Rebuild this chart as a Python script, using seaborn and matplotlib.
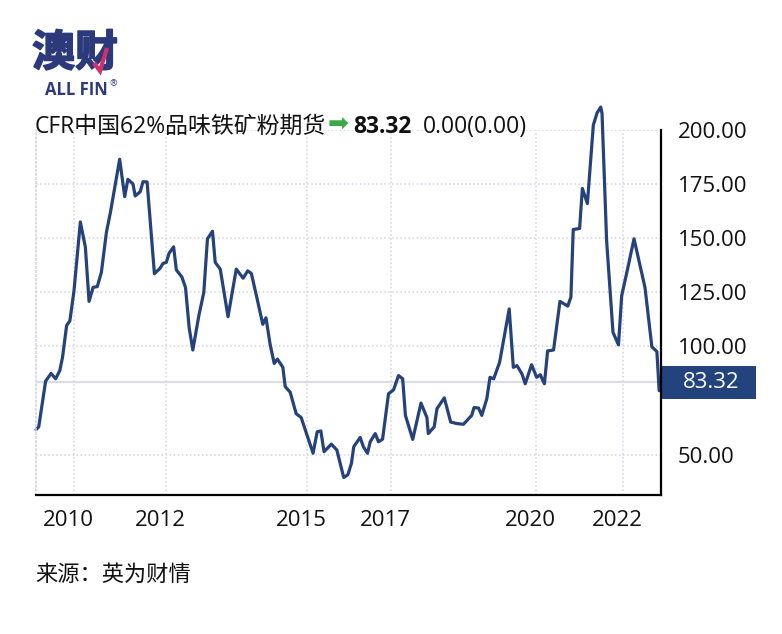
import matplotlib
matplotlib.use("Agg")
import matplotlib.pyplot as plt
import matplotlib.transforms as mtransforms
import matplotlib.patheffects as pe
from matplotlib.patches import Rectangle
from matplotlib.lines import Line2D
import seaborn as sns

# CFR China 62% iron ore fines (decimal year, USD/t)
years = [2009.16, 2009.22, 2009.37, 2009.49, 2009.59, 2009.68, 2009.74, 2009.83, 2009.90, 2009.99,
         2010.13, 2010.24, 2010.32, 2010.41, 2010.50, 2010.59, 2010.70, 2010.79, 2010.99, 2011.10,
         2011.17, 2011.28, 2011.33, 2011.44, 2011.50, 2011.59, 2011.75, 2011.87, 2011.94, 2012.01,
         2012.07, 2012.17, 2012.23, 2012.35, 2012.43, 2012.51, 2012.59, 2012.72, 2012.83, 2012.91,
         2013.02, 2013.08, 2013.19, 2013.28, 2013.36, 2013.54, 2013.69, 2013.79, 2013.87, 2013.99,
         2014.12, 2014.19, 2014.28, 2014.37, 2014.44, 2014.56, 2014.61, 2014.72, 2014.85, 2014.96,
         2015.22, 2015.31, 2015.39, 2015.46, 2015.62, 2015.74, 2015.89, 2015.98, 2016.06, 2016.11,
         2016.25, 2016.32, 2016.41, 2016.47, 2016.58, 2016.65, 2016.74, 2016.87, 2016.98, 2017.09,
         2017.18, 2017.24, 2017.40, 2017.58, 2017.71, 2017.74, 2017.87, 2017.93, 2018.09, 2018.23,
         2018.37, 2018.51, 2018.69, 2018.74, 2018.84, 2018.91, 2019.02, 2019.09, 2019.17, 2019.30,
         2019.51, 2019.60, 2019.68, 2019.79, 2019.86, 2020.00, 2020.11, 2020.19, 2020.28, 2020.35,
         2020.48, 2020.62, 2020.79, 2020.86, 2020.91, 2021.05, 2021.11, 2021.22, 2021.35, 2021.43,
         2021.51, 2021.54, 2021.64, 2021.78, 2021.90, 2021.97, 2022.09, 2022.24, 2022.48, 2022.63,
         2022.74, 2022.79]
prices = [61.5, 62.8, 83.9, 87.5, 85.0, 88.8, 94.9, 109.7, 111.7, 125.5,
          157.5, 145.8, 120.8, 127.3, 127.6, 134.2, 152.7, 162.2, 186.5, 169.2,
          177.2, 175.1, 169.5, 171.5, 176.1, 176.0, 133.6, 136.0, 138.4, 138.8,
          143.0, 146.0, 135.3, 132.1, 127.2, 108.6, 98.3, 114.0, 124.9, 149.7,
          153.2, 138.8, 135.7, 124.1, 113.7, 135.7, 131.5, 134.9, 133.7, 122.6,
          110.2, 113.2, 101.0, 92.1, 94.1, 90.3, 81.4, 78.8, 68.9, 67.1,
          50.6, 60.5, 60.9, 51.3, 54.8, 52.1, 39.4, 40.6, 46.0, 53.6,
          57.9, 53.6, 50.6, 55.9, 59.7, 55.9, 57.1, 78.1, 79.9, 86.5,
          85.0, 68.1, 57.0, 73.8, 67.1, 59.7, 62.8, 71.2, 76.2, 65.0,
          64.3, 64.0, 68.1, 71.7, 71.5, 68.1, 75.8, 85.7, 85.0, 92.6,
          117.3, 90.3, 91.1, 87.2, 82.7, 91.5, 85.7, 86.9, 82.7, 97.9,
          98.3, 120.8, 118.6, 122.8, 154.0, 154.5, 173.0, 166.0, 202.3, 207.8,
          210.6, 207.8, 149.0, 106.5, 100.7, 123.4, 134.9, 149.7, 127.2, 99.8,
          97.6, 79.5]

last_price = 83.32
x_ticks = [2010.0, 2012.01, 2015.09, 2016.93, 2020.10, 2022.0]
x_labels = ["2010", "2012", "2015", "2017", "2020", "2022"]
y_ticks = [50, 100, 125, 150, 175, 200]

navy = "#25427a"
logo_navy = "#2c3a7c"
grid_col = "#d3d3e3"

sns.set_style("white")
plt.rcParams["font.family"] = ["Open Sans", "Noto Sans CJK SC", "DejaVu Sans"]

W, H = 782, 634
fig = plt.figure(figsize=(W / 100, H / 100), dpi=100)
ax = fig.add_axes([36 / W, 1 - 495 / H, (661 - 36) / W, (495 - 130) / H])

sns.lineplot(x=years, y=prices, ax=ax, color=navy, linewidth=2.3)
for ln in ax.lines:
    ln.set_clip_on(False)
    ln.set_solid_joinstyle("round")

ax.set_xlim(2009.16, 2022.83)
ax.set_ylim(31.3, 200)
ax.set_xticks(x_ticks)
ax.set_xticklabels(x_labels)
ax.set_yticks(y_ticks)
ax.set_yticklabels([f"{v:.2f}" for v in y_ticks])
ax.yaxis.tick_right()
ax.tick_params(axis="both", length=0, labelsize=16, colors="#111111")
ax.tick_params(axis="y", pad=12)
ax.tick_params(axis="x", pad=11)
off = mtransforms.ScaledTranslation(-4 / 72, 0, fig.dpi_scale_trans)
for lab in ax.get_xticklabels():
    lab.set_transform(lab.get_transform() + off)

ax.grid(True, linestyle=":", color=grid_col, linewidth=1.1)
ax.spines["top"].set_visible(False)
ax.spines["left"].set_linestyle(":")
ax.spines["left"].set_color(grid_col)
ax.spines["left"].set_linewidth(1.1)
for s in ["bottom", "right"]:
    ax.spines[s].set_color("black")
    ax.spines[s].set_linewidth(1.6)

# last price line and label box
ax.axhline(last_price, color="#dcdbe6", linewidth=1.6, zorder=1)
trans = mtransforms.blended_transform_factory(ax.transAxes, ax.transData)
ax.add_patch(Rectangle((1.0, last_price - 7.6), 95 / (661 - 36), 15.2, transform=trans,
                       facecolor="#23437c", edgecolor="none", clip_on=False))
ax.text(1.0 + 50 / (661 - 36), last_price, f"{last_price:.2f}", transform=trans,
        color="white", fontsize=16, ha="center", va="center")


def px(x, y):
    return x / W, 1 - y / H


# header
fig.text(*px(35, 133), "CFR中国62%品味铁矿粉期货", fontsize=16.5, color="#111111", va="baseline")
fig.text(*px(328, 131), "➡", fontsize=18, color="#3aaa45", va="baseline", family=["DejaVu Sans"])
fig.text(*px(353, 133), f"{last_price:.2f}", fontsize=16.5, fontweight="bold", color="#111111", va="baseline")
fig.text(*px(423, 133), "0.00(0.00)", fontsize=16.5, color="#111111", va="baseline")

# logo
fig.text(*px(32, 53), "澳财", fontsize=31, fontweight="bold", color=logo_navy, va="center",
         family=["Noto Sans CJK SC"],
         path_effects=[pe.withStroke(linewidth=1.2, foreground=logo_navy)])
xs, ys = zip(*[px(94, 63), px(100, 71), px(107, 48)])
fig.add_artist(Line2D(xs, ys, transform=fig.transFigure, color="#d2306a", linewidth=3.0,
                      solid_joinstyle="miter", solid_capstyle="butt", zorder=6))
fig.text(*px(45, 90), "ALL FIN", fontsize=12, fontweight="bold", color=logo_navy, va="center")
fig.text(*px(110, 84), "®", fontsize=6.5, color=logo_navy, va="center")

# source
fig.text(*px(35, 575), "来源：英为财情", fontsize=16, color="#111111", va="center")

fig.savefig("out.png", dpi=100)
